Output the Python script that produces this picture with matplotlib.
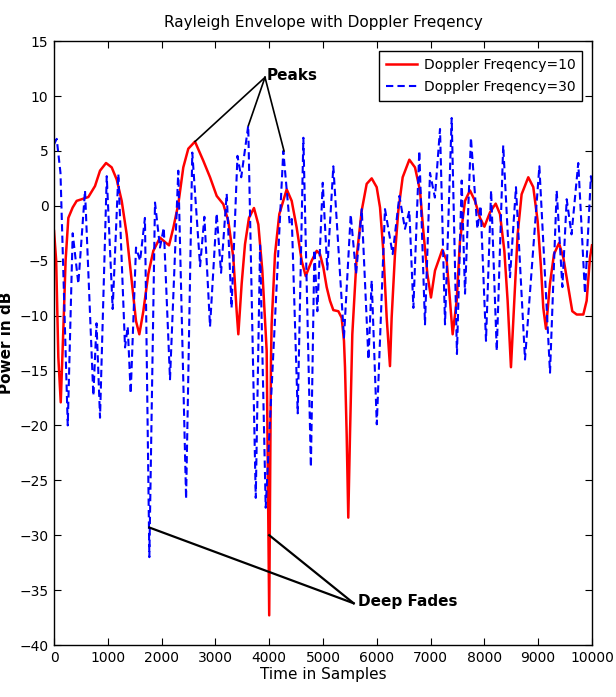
import matplotlib
matplotlib.use("Agg")
import matplotlib.pyplot as plt

# ---- data ----
red_x = [0, 40, 80, 125, 175, 215, 266, 347, 421, 514, 638, 762, 855, 967, 1072, 1165,
         1258, 1351, 1444, 1524, 1586, 1660, 1753, 1846, 1970, 2063, 2138, 2218, 2310,
         2403, 2496, 2620, 2775, 2900, 3024, 3147, 3240, 3333, 3395, 3426, 3488, 3550,
         3624, 3717, 3798, 3872, 3953, 4000, 4033, 4045, 4108, 4188, 4325, 4418, 4511,
         4604, 4678, 4790, 4883, 4944, 5006, 5068, 5130, 5192, 5285, 5347, 5390, 5409,
         5440, 5470, 5502, 5545, 5625, 5719, 5812, 5905, 5998, 6060, 6121, 6184, 6245,
         6276, 6338, 6400, 6481, 6605, 6710, 6803, 6865, 6940, 7007, 7082, 7218, 7299,
         7361, 7410, 7485, 7546, 7640, 7732, 7825, 7918, 8000, 8104, 8210, 8290, 8371,
         8432, 8494, 8556, 8618, 8692, 8816, 8909, 8990, 9052, 9095, 9145, 9219, 9294,
         9387, 9467, 9560, 9634, 9716, 9839, 9901, 9963, 10000]
red_y = [-2.3, -5.0, -13.8, -17.9, -11.0, -5.0, -1.1, -0.15, 0.45, 0.6, 0.8, 1.8, 3.2,
         3.9, 3.5, 2.4, 0.45, -2.6, -6.8, -10.5, -11.7, -9.6, -6.2, -4.1, -2.9, -3.3,
         -3.6, -2.0, 0.15, 3.5, 5.2, 5.85, 4.1, 2.6, 0.9, 0.15, -1.4, -4.7, -9.6, -11.7,
         -7.1, -3.5, -1.1, -0.2, -1.7, -5.9, -13.2, -37.3, -14.0, -10.8, -4.4, -0.75,
         1.5, 0.45, -2.0, -5.0, -6.4, -5.0, -4.1, -4.4, -5.6, -7.4, -8.65, -9.5, -9.6,
         -10.2, -12.3, -14.7, -20.8, -28.4, -20.8, -11.7, -4.7, -0.45, 2.0, 2.5, 1.7,
         -0.15, -4.1, -10.2, -14.6, -10.2, -4.4, -0.45, 2.6, 4.2, 3.5, 1.4, -2.3, -6.2,
         -8.35, -5.9, -4.0, -5.0, -8.65, -11.7, -8.65, -3.2, 0.45, 1.4, 0.45, -1.1,
         -1.9, -0.6, 0.2, -0.75, -4.1, -8.65, -14.7, -8.65, -2.6, 1.05, 2.6, 1.7, -1.4,
         -5.6, -9.3, -11.2, -7.1, -4.4, -3.4, -4.7, -7.4, -9.6, -9.9, -9.9, -8.65,
         -4.7, -3.6]

blue_x = [0, 50, 120, 255, 347, 452, 576, 731, 790, 855, 980, 1090, 1196, 1320, 1370,
          1425, 1524, 1600, 1690, 1772, 1877, 1970, 2040, 2156, 2310, 2455, 2570, 2715,
          2795, 2900, 3023, 3105, 3210, 3300, 3410, 3480, 3610, 3750, 3830, 3935, 4262,
          4380, 4420, 4530, 4635, 4775, 4840, 4895, 4995, 5080, 5192, 5390, 5515, 5615,
          5720, 5845, 5905, 6000, 6152, 6295, 6420, 6524, 6605, 6680, 6790, 6896, 6989,
          7080, 7175, 7268, 7392, 7490, 7578, 7640, 7750, 7870, 7930, 8030, 8125, 8230,
          8350, 8476, 8587, 8755, 9022, 9220, 9344, 9450, 9530, 9620, 9745, 9870, 9980,
          10000]
blue_y = [5.6, 6.1, 3.0, -20.0, -2.5, -7.1, 1.4, -17.3, -10.7, -19.3, 2.7, -9.4, 2.9,
          -12.9, -11.0, -17.1, -3.8, -5.0, -1.1, -32.0, 0.3, -3.8, -2.0, -15.8, 3.2,
          -26.7, 4.85, -5.5, -1.0, -11.0, -0.7, -6.1, 1.1, -9.3, 4.55, 2.6, 7.3, -26.6,
          -3.6, -27.5, 5.0, -1.6, -1.2, -18.9, 6.2, -23.8, -4.0, -9.6, 2.1, -5.8, 3.6,
          -12.0, -0.8, -6.2, -0.3, -14.0, -6.8, -19.9, -0.3, -4.4, 0.9, -2.1, -0.45,
          -9.3, 5.0, -10.8, 3.0, 0.75, 7.0, -10.8, 8.0, -13.5, 2.3, -8.0, 6.2, -2.1,
          0.0, -12.3, 1.4, -13.2, 5.5, -6.5, 1.7, -14.0, 3.6, -15.2, 1.4, -7.4, 0.6,
          -2.6, 3.9, -8.0, 2.7, 2.0]

x_ticks = [0, 1000, 2000, 3000, 4000, 5000, 6000, 7000, 8000, 9000, 10000]
y_ticks = [15, 10, 5, 0, -5, -10, -15, -20, -25, -30, -35, -40]

peak_targets = [(2620, 5.85), (3612, 7.3), (4275, 5.0)]
peak_vertex = (3922, 11.7)
fade_targets = [(1772, -29.3), (4000, -30.0)]
fade_vertex = (5570, -36.2)

plt.rcParams['font.family'] = ['Liberation Sans Narrow', 'DejaVu Sans']

fig = plt.figure(figsize=(6.16, 6.97), dpi=100)
ax = fig.add_axes([0.0877, 0.0746, 0.8733, 0.8664])

ax.plot(red_x, red_y, color='#ff0000', lw=1.8, label='Doppler Freqency=10')
ax.plot(blue_x, blue_y, color='#0000ff', lw=1.5, ls=(0, (3.5, 2)),
        label='Doppler Freqency=30')

for tx, ty in peak_targets:
    ax.plot([peak_vertex[0], tx], [peak_vertex[1], ty], color='black', lw=1.2)
for tx, ty in fade_targets:
    ax.plot([fade_vertex[0], tx], [fade_vertex[1], ty], color='black', lw=1.6)

ax.text(peak_vertex[0] + 30, peak_vertex[1] + 0.2, 'Peaks', fontsize=11,
        fontweight='bold', ha='left', va='center')
ax.text(fade_vertex[0] + 80, fade_vertex[1] + 0.2, 'Deep Fades', fontsize=11,
        fontweight='bold', ha='left', va='center')

ax.set_xlim(0, 10000)
ax.set_ylim(-40, 15)
ax.set_xticks(x_ticks)
ax.set_yticks(y_ticks)
ax.tick_params(direction='in', top=True, right=True, length=5, labelsize=10, pad=4)

ax.set_title('Rayleigh Envelope with Doppler Freqency', fontsize=11, pad=10)
ax.set_xlabel('Time in Samples', fontsize=11, labelpad=2)
ax.set_ylabel('Power in dB', fontsize=11, fontweight='bold', labelpad=4)

leg = ax.legend(loc='upper right', fontsize=10, frameon=True, fancybox=False,
                borderaxespad=0.7, handlelength=2.2, labelspacing=0.6,
                borderpad=0.5, handletextpad=0.5)
leg.get_frame().set_edgecolor('black')
leg.get_frame().set_linewidth(1.0)
leg.get_frame().set_alpha(1.0)

for s in ax.spines.values():
    s.set_linewidth(1.0)

fig.savefig('out.png', dpi=100)
